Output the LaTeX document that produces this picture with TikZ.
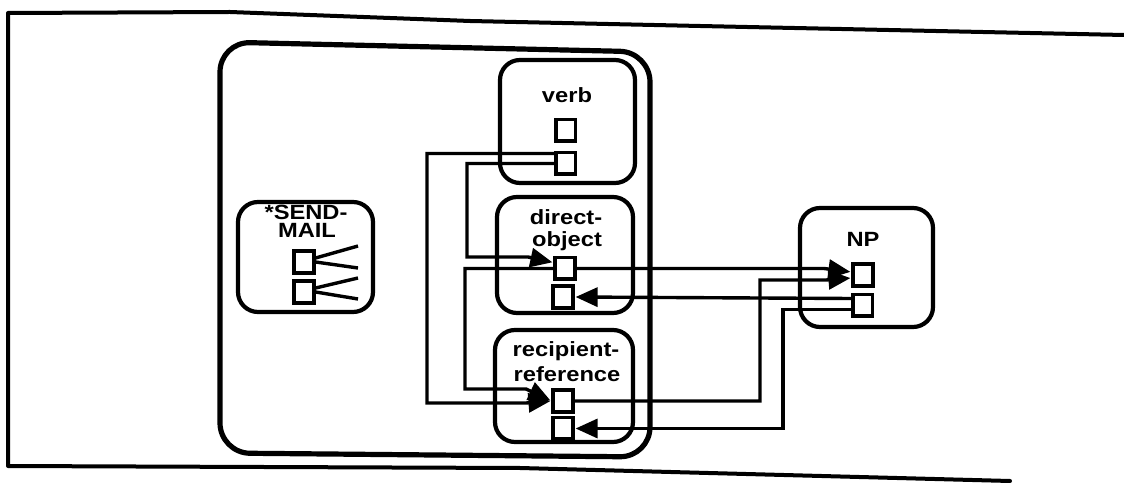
\documentclass[tikz,border=0pt]{standalone}
\usepackage{fontspec}
\newfontfamily\lblfont[FakeStretch=1.15]{Liberation Sans}
\usetikzlibrary{arrows.meta}
\pgfdeclarelayer{back}
\pgfdeclarelayer{wires}
\pgfsetlayers{back,wires,main}
\begin{document}
\begin{tikzpicture}[x=0.5pt,y=-0.5pt,
  frame/.style={line width=2pt, line join=round, line cap=round},
  bigbox/.style={line width=2.6pt, rounded corners=15pt},
  concept/.style={draw, line width=2.1pt, rounded corners=10pt, inner sep=0pt, fill=none},
  slot/.style={draw, line width=1.8pt, minimum width=9.8pt, minimum height=10.8pt, inner sep=0pt, fill=white},
  link/.style={line width=1.7pt},
  arr/.style={link, -{Triangle[length=11pt,width=9.5pt]}, shorten >=0.5pt},
  lbl/.style={font=\lblfont\bfseries\fontsize{10.3}{12}\selectfont, inner sep=0pt, anchor=base}]
\useasboundingbox (0,0) rectangle (1124,491);
\begin{pgfonlayer}{back}
  \fill[white] (0,0) rectangle (1124,491);
\end{pgfonlayer}

% outer frame
\draw[frame] (1124,35) -- (700,26) -- (470,21) -- (230,12) -- (8,13) -- (8,466) -- (520,468) -- (1010,481);

% big enclosing box
\draw[bigbox] (220,42) -- (650,52) -- (650,457) -- (220,453) -- cycle;

% concept boxes
\node[concept, minimum width=67.5pt, minimum height=61.5pt] (verb) at (567.5,121.5) {};
\node[concept, minimum width=68pt, minimum height=58pt] (dobj) at (565,255) {};
\node[concept, minimum width=69pt, minimum height=56pt] (rref) at (564,386) {};
\node[concept, minimum width=67.5pt, minimum height=55pt] (smail) at (305.5,257) {};
\node[concept, minimum width=66.5pt, minimum height=59.5pt] (np) at (866.5,267.5) {};

% labels
\node[lbl] (tverb) at (567,103) {verb};
\node[lbl] (tdo1) at (566,225) {direct-};
\node[lbl] (tdo2) at (567,247) {object};
\node[lbl] (trr1) at (566,357) {recipient-};
\node[lbl] (trr2) at (567,382) {reference};
\node[lbl] (tsm1) at (306,220) {*SEND-};
\node[lbl] (tsm2) at (307,238) {MAIL};
\node[lbl] (tnp) at (863,247) {NP};

% slots
\node[slot] (vs1) at (565.5,130.5) {};
\node[slot] (vs2) at (565.5,163.5) {};
\node[slot] (ds1) at (565,268.5) {};
\node[slot] (ds2) at (563,297) {};
\node[slot] (rs1) at (563,401) {};
\node[slot] (rs2) at (563,428.5) {};
\node[slot] (ns1) at (863,275) {};
\node[slot] (ns2) at (862.5,305.5) {};
\node[slot] (ss1) at (304,262) {};
\node[slot] (ss2) at (304,292) {};

% waypoints
\coordinate (A2) at (427,403);
\coordinate (A3) at (526,403);
\coordinate (B2) at (467,257);
\coordinate (B3) at (528,257);
\coordinate (C2) at (465,389);
\coordinate (C3) at (526,389);
\coordinate (D1) at (824,268.5);
\coordinate (E2) at (760,280);
\coordinate (E3) at (826,280);
\coordinate (G2) at (783,428.5);
\coordinate (f1) at (358,246);
\coordinate (f2) at (358,268);
\coordinate (f3) at (358,278);
\coordinate (f4) at (358,299);

\begin{pgfonlayer}{wires}
  \draw[arr] ([yshift=5pt]vs2.west) -| (A2) -- (A3) -- (rs1.west);
  \draw[arr] (vs2.west) -| (B2) -- (B3) -- ([yshift=3pt]ds1.west);
  \draw[arr] (ds1.west) -| (C2) -- (C3) -- (rs1.west);
  \draw[arr] (ds1.east) -- (D1) -- ([yshift=1.5pt]ns1.west);
  \draw[arr] (rs1.east) -| (E2) -- (E3) -- ([yshift=-1.5pt]ns1.west);
  \draw[arr] ([yshift=3.5pt]ns2.west) -- (ds2.east);
  \draw[arr] ([yshift=-2pt]ns2.west) -| (G2) -- (rs2.east);
  \draw[link] ([yshift=2pt]ss1.east) -- (f1);
  \draw[link] (ss1.east) -- (f2);
  \draw[link] ([yshift=2pt]ss2.east) -- (f3);
  \draw[link] (ss2.east) -- (f4);
\end{pgfonlayer}
\end{tikzpicture}
\end{document}
